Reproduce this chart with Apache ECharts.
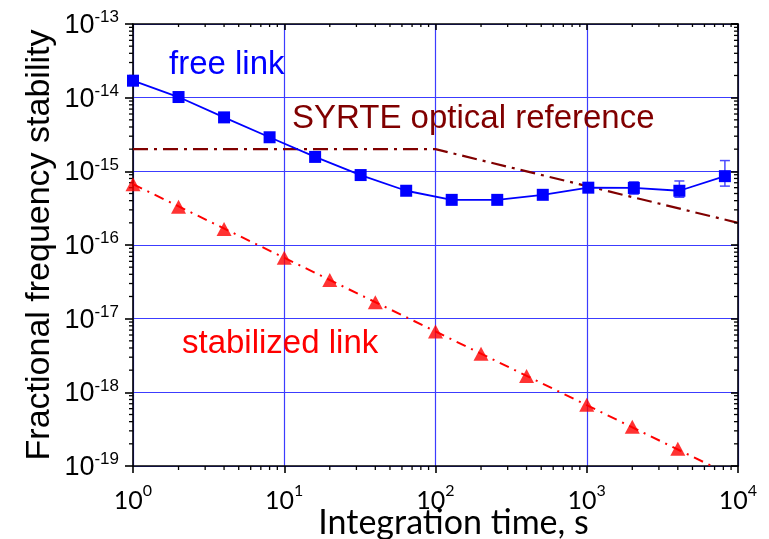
<!DOCTYPE html>
<html>
<head>
<meta charset="utf-8">
<script src="https://cdn.jsdelivr.net/npm/echarts@6/dist/echarts.min.js"></script>
<style>
  html, body { margin: 0; padding: 0; background: #ffffff; }
  #chart { width: 769px; height: 539px; }
</style>
</head>
<body>
<div id="chart"></div>
<script>
// Allan deviation of the free-running link (blue squares)
const freeTau  = [1, 2, 4, 8, 16, 32, 64, 128, 256, 512, 1024, 2048, 4096, 8192];
const freeAdev = [1.7e-14, 1.02e-14, 5.4e-15, 2.9e-15, 1.57e-15, 8.9e-16, 5.45e-16,
                  4.1e-16, 4.1e-16, 4.8e-16, 6.0e-16, 5.95e-16, 5.45e-16, 8.6e-16];
// error bars on the long-term points
const freeErrTau  = [2048, 4096, 8192];
const freeErrLow  = [4.9e-16, 4.45e-16, 6.3e-16];
const freeErrHigh = [7.2e-16, 7.4e-16, 1.4e-15];

// Allan deviation of the stabilized link (red triangles)
const stabTau  = [1, 2, 4, 10, 20, 40, 100, 200, 400, 1000, 2000, 4000];
const stabAdev = [6.7e-16, 3.3e-16, 1.65e-16, 6.7e-17, 3.35e-17, 1.67e-17,
                  6.7e-18, 3.35e-18, 1.67e-18, 6.8e-19, 3.4e-19, 1.72e-19];
// 1/tau trend line through the stabilized link
const stabFitTau  = [1, 6700];
const stabFitAdev = [6.7e-16, 1e-19];

// SYRTE optical reference stability
const syrteTau  = [1, 100, 10000];
const syrteAdev = [2e-15, 2e-15, 2e-16];

// axis ranges (decades)
const xMin = 1, xMax = 1e4;
const yMin = 1e-19, yMax = 1e-13;

const pairs = (xs, ys) => xs.map((x, i) => [x, ys[i]]);

// minor tick values 2..9 x 10^e between two decades
function minorValues(lo, hi) {
  const out = [];
  for (let e = Math.round(Math.log10(lo)); e < Math.round(Math.log10(hi)); e++) {
    for (let m = 2; m <= 9; m++) out.push(m * Math.pow(10, e));
  }
  return out;
}

const powLabel = v => '{b|10}{s|' + Math.round(Math.log10(v)) + '}';

const chart = echarts.init(document.getElementById('chart'), null, { renderer: 'canvas' });

const axisLineStyle = { color: '#000000', width: 1.6 };
const gridLineStyle = { color: '#3c3cff', width: 1.2 };

const option = {
  backgroundColor: '#ffffff',
  animation: false,
  grid: { left: 133, right: 31, top: 24, bottom: 73, containLabel: false, outerBoundsMode: 'none' },
  xAxis: [
    {
      type: 'log', logBase: 10, min: xMin, max: xMax, splitNumber: 4,
      position: 'bottom',
      axisLine: { show: true, onZero: false, lineStyle: axisLineStyle },
      axisTick: { show: true, inside: false, length: 7, lineStyle: axisLineStyle },
      splitLine: { show: true, lineStyle: gridLineStyle },
      axisLabel: {
        margin: 17,
        fontFamily: 'Lato', fontSize: 25, color: '#000',
        formatter: powLabel,
        rich: {
          b: { fontFamily: 'Lato', fontSize: 25, color: '#000', verticalAlign: 'bottom', lineHeight: 30 },
          s: { fontFamily: 'Lato', fontSize: 16, color: '#000', verticalAlign: 'top', lineHeight: 16 }
        }
      },
      name: 'Integration time, s',
      nameLocation: 'middle',
      nameMoveOverlap: false,
      nameGap: 40,
      nameTextStyle: { fontFamily: 'Lato', fontSize: 34, color: '#000', padding: [0, 0, 0, 36] }
    },
    {
      type: 'log', logBase: 10, min: xMin, max: xMax, splitNumber: 4,
      position: 'top',
      axisLine: { show: true, onZero: false, lineStyle: axisLineStyle },
      axisTick: { show: true, inside: true, length: 6, lineStyle: axisLineStyle },
      splitLine: { show: false },
      axisLabel: { show: false }
    }
  ],
  yAxis: [
    {
      type: 'log', logBase: 10, min: yMin, max: yMax, splitNumber: 6,
      position: 'left',
      axisLine: { show: true, onZero: false, lineStyle: axisLineStyle },
      axisTick: { show: true, inside: false, length: 8, lineStyle: axisLineStyle },
      splitLine: { show: true, lineStyle: gridLineStyle },
      axisLabel: {
        margin: 14,
        fontFamily: 'Liberation Sans', fontSize: 27, color: '#000',
        formatter: powLabel,
        rich: {
          b: { fontFamily: 'Liberation Sans', fontSize: 27, color: '#000', verticalAlign: 'bottom', lineHeight: 30 },
          s: { fontFamily: 'Liberation Sans', fontSize: 17, color: '#000', verticalAlign: 'top', lineHeight: 17 }
        }
      },
      name: 'Fractional frequency stability',
      nameLocation: 'middle',
      nameMoveOverlap: false,
      nameRotate: 90,
      nameGap: 76,
      nameTextStyle: { fontFamily: 'Liberation Sans', fontSize: 34, color: '#000' }
    },
    {
      type: 'log', logBase: 10, min: yMin, max: yMax, splitNumber: 6,
      position: 'right',
      axisLine: { show: true, onZero: false, lineStyle: axisLineStyle },
      axisTick: { show: true, inside: true, length: 7, lineStyle: axisLineStyle },
      splitLine: { show: false },
      axisLabel: { show: false }
    }
  ],
  graphic: [
    { type: 'text', left: 169, top: 48, z: 20,
      style: { text: 'free link', fill: '#0000ff', font: '33px "Liberation Sans"' } },
    { type: 'text', left: 292, top: 102, z: 20,
      style: { text: 'SYRTE optical reference', fill: '#800000', font: '33px "Liberation Sans"' } },
    { type: 'text', left: 182, top: 327, z: 20,
      style: { text: 'stabilized link', fill: '#ff0000', font: '33px "Liberation Sans"' } }
  ],
  series: [
    {
      // minor ticks on all four sides of the frame
      type: 'custom',
      coordinateSystem: 'cartesian2d',
      silent: true,
      clip: false,
      z: 5,
      data: [[xMin, yMin]],
      renderItem: function (params, api) {
        const children = [];
        const st = { stroke: '#000', lineWidth: 1.3 };
        minorValues(xMin, xMax).forEach(function (v) {
          const b = api.coord([v, yMin]);
          const t = api.coord([v, yMax]);
          children.push({ type: 'line', shape: { x1: b[0], y1: b[1], x2: b[0], y2: b[1] + 4 }, style: st });
          children.push({ type: 'line', shape: { x1: t[0], y1: t[1], x2: t[0], y2: t[1] + 3 }, style: st });
        });
        minorValues(yMin, yMax).forEach(function (v) {
          const l = api.coord([xMin, v]);
          const r = api.coord([xMax, v]);
          children.push({ type: 'line', shape: { x1: l[0], y1: l[1], x2: l[0] - 4, y2: l[1] }, style: st });
          children.push({ type: 'line', shape: { x1: r[0], y1: r[1], x2: r[0] - 4, y2: r[1] }, style: st });
        });
        return { type: 'group', children: children };
      }
    },
    {
      name: 'SYRTE optical reference',
      type: 'line',
      data: pairs(syrteTau, syrteAdev),
      showSymbol: false,
      symbol: 'none',
      lineStyle: { color: '#800000', width: 2.2, type: [15, 6, 3, 6] },
      z: 3
    },
    {
      name: 'stabilized link trend',
      type: 'line',
      data: pairs(stabFitTau, stabFitAdev),
      symbol: 'none',
      lineStyle: { color: '#ff0000', width: 2, type: [10, 6, 2, 6] },
      z: 3
    },
    {
      name: 'free link',
      type: 'line',
      data: pairs(freeTau, freeAdev),
      symbol: 'rect',
      symbolSize: 12,
      itemStyle: { color: '#0000ff' },
      lineStyle: { color: '#0000ff', width: 1.8 },
      z: 6
    },
    {
      name: 'free link error',
      type: 'custom',
      coordinateSystem: 'cartesian2d',
      silent: true,
      z: 5,
      encode: { x: 0, y: [1, 2] },
      data: freeErrTau.map((t, i) => [t, freeErrLow[i], freeErrHigh[i]]),
      renderItem: function (params, api) {
        const x = api.value(0);
        const lo = api.coord([x, api.value(1)]);
        const hi = api.coord([x, api.value(2)]);
        const st = { stroke: '#4a4aff', lineWidth: 1.5 };
        const w = 5;
        return {
          type: 'group',
          children: [
            { type: 'line', shape: { x1: lo[0], y1: lo[1], x2: hi[0], y2: hi[1] }, style: st },
            { type: 'line', shape: { x1: hi[0] - w, y1: hi[1], x2: hi[0] + w, y2: hi[1] }, style: st },
            { type: 'line', shape: { x1: lo[0] - w, y1: lo[1], x2: lo[0] + w, y2: lo[1] }, style: st }
          ]
        };
      }
    },
    {
      name: 'stabilized link',
      type: 'scatter',
      data: pairs(stabTau, stabAdev),
      symbol: 'triangle',
      symbolSize: [15, 14],
      itemStyle: { color: '#ff0000' },
      z: 7
    }
  ]
};

chart.setOption(option);
</script>
</body>
</html>
